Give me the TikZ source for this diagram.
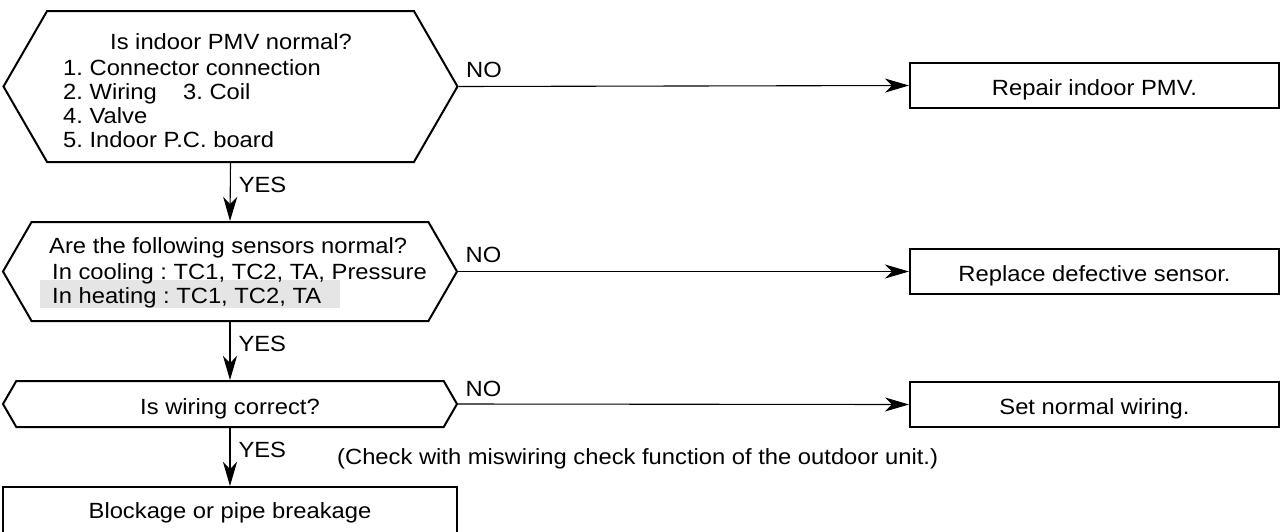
\documentclass[tikz,border=0pt]{standalone}
\usepackage{fontspec}
\setmainfont{Liberation Sans}[FakeStretch=1.08]
\usetikzlibrary{arrows.meta,shapes.symbols}

\tikzset{
  decision/.style={signal,signal to=east and west,signal pointer angle=120,draw,line width=2pt,inner sep=0pt,minimum width=454pt,text height=20pt,text depth=0pt},
  action/.style={draw,line width=2pt,inner sep=0pt,minimum height=45pt,text height=20pt,text depth=0pt},
  link/.style={line width=1.1pt,-{Stealth[length=24pt,width=14pt,inset=7pt]}},
  answer/.style={anchor=base west,inner sep=0pt},
  plain/.style={inner sep=0pt},
}

\begin{document}
\frenchspacing
\begin{tikzpicture}[x=1pt,y=-1pt,font=\fontsize{22}{24}\selectfont]
\useasboundingbox (0,0) rectangle (1284,531);

% decisions
\node[decision,minimum height=151pt] (pmv) at (230.5,86.5) {};
\node[decision,minimum height=99pt] (sensor) at (230,271.5) {};
\node[decision,minimum height=46pt] (wiring) at (230,404) {Is wiring correct?};

% actions
\node[action,minimum width=369pt] (repair) at (1094.5,85.5) {Repair indoor PMV.};
\node[action,minimum width=369pt] (replace) at (1094.5,271.5) {Replace defective sensor.};
\node[action,minimum width=369pt] (setwire) at (1094.5,404.5) {Set normal wiring.};
\node[action,minimum width=454pt,minimum height=50pt,text height=12pt] (block) at (230,512) {Blockage or pipe breakage};

% text of the first check
\node[plain,anchor=base] (pmvq) at (231,49) {Is indoor PMV normal?};
\foreach \y/\txt [count=\i] in {75/1. Connector connection,99/\makebox[120pt][l]{2. Wiring}3. Coil,123/4. Valve,147/5. Indoor P.C. board}
  \node[plain,anchor=base west] (pmv\i) at (63,\y) {\txt};

% text of the sensor check
\fill[gray!20] (40,280) rectangle (340,308);
\node[plain,anchor=base west] (sensq) at (49,253) {Are the following sensors normal?};
\node[plain,anchor=base west] (cool) at (52,279) {In cooling : TC1, TC2, TA, Pressure};
\node[plain,anchor=base west] (heat) at (52,303) {In heating : TC1, TC2, TA};

% YES branches
\draw[link] (pmv.south) -- node[answer,pos=0.5,xshift=8pt] (yes1) {YES} (sensor.north);
\draw[link] (sensor.south) -- node[answer,pos=0.5,xshift=8pt] (yes2) {YES} (wiring.north);
\draw[link] (wiring.south) -- node[answer,pos=0.5,xshift=8pt] (yes3) {YES} (block.north);

% NO branches
\draw[link] (pmv.east) -- node[answer,pos=0,xshift=7pt,yshift=9pt] (no1) {NO} (repair.west);
\draw[link] (sensor.east) -- node[answer,pos=0,xshift=7pt,yshift=9pt] (no2) {NO} (replace.west);
\draw[link] (wiring.east) -- node[answer,pos=0,xshift=7pt,yshift=8pt] (no3) {NO} (setwire.west);

\node[plain,anchor=base west] (note) at (337,464) {(Check with miswiring check function of the outdoor unit.)};
\end{tikzpicture}
\end{document}
